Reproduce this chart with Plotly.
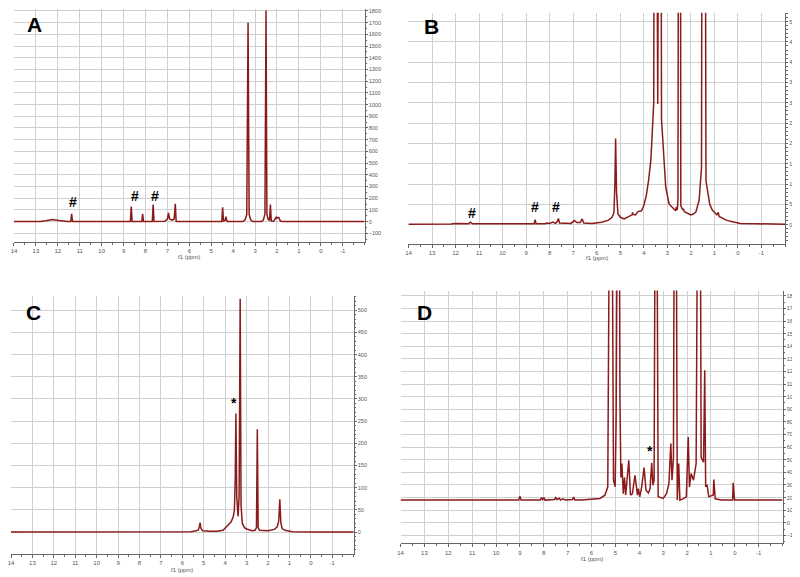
import plotly.graph_objects as go

# ---------------- data ----------------
ppm_ticks = [14, 13, 12, 11, 10, 9, 8, 7, 6, 5, 4, 3, 2, 1, 0, -1]

A_ppm = [14.0, 12.8, 12.55, 12.25, 11.95, 11.75, 11.55, 11.41, 11.37, 11.33, 8.69, 8.65, 8.61,
         8.17, 8.13, 8.09, 7.69, 7.65, 7.61, 7.12, 7.0, 6.95, 6.9, 6.78, 6.69, 6.64, 6.6,
         4.52, 4.48, 4.44, 4.36, 4.33, 4.28, 3.55, 3.45, 3.38, 3.32, 3.27, 3.2, 3.1,
         2.7, 2.62, 2.55, 2.5, 2.46, 2.4, 2.34, 2.3, 2.26, 2.15, 2.08, 2.04, 2.0, 1.95,
         1.9, 1.85, 1.75, -2.0]
A_int = [0, 0, 7, 17, 9, 2, 0, 0, 66, 0, 0, 128, 0,
         0, 66, 0, 0, 145, 0, 2, 22, 74, 22, 12, 22, 151, 0,
         0, 123, 5, 12, 43, 0, 0, 18, 60, 1700, 60, 15, 0,
         0, 15, 65, 1805, 60, 18, 10, 146, 5, 3, 25, 37, 28, 35,
         30, 5, 0, 0]

B_ppm = [14.0, 13.0, 12.2, 12.0, 11.8, 11.45, 11.37, 11.28, 10.0, 9.0, 8.66, 8.62, 8.58,
         8.2, 8.12, 8.0, 7.87, 7.75, 7.67, 7.63, 7.58, 7.1, 6.95, 6.85, 6.7, 6.62, 6.55,
         6.2, 5.8, 5.5, 5.45, 5.35, 5.27, 5.23, 5.2, 5.16, 5.1, 5.0, 4.84, 4.6, 4.5, 4.48,
         4.45, 4.35, 4.25, 4.1, 4.0, 3.9, 3.8, 3.7, 3.65, 3.58, 3.53, 3.47, 3.41, 3.36, 3.3,
         3.25, 3.17, 3.07, 2.93, 2.8, 2.72, 2.65, 2.62, 2.58, 2.55, 2.5, 2.46, 2.43, 2.35,
         2.32, 2.28, 2.15, 2.0, 1.9, 1.79, 1.65, 1.55, 1.5, 1.43, 1.36, 1.3, 1.27, 1.2,
         1.09, 0.9, 0.84, 0.8, 0.74, 0.5, 0.32, -0.1, -0.8, -2.0]
B_int = [0.1, 0.1, 0.15, 0.3, 0.2, 0.2, 0.6, 0.2, 0.2, 0.2, 0.2, 1.2, 0.2,
         0.2, 0.4, 0.3, 0.6, 0.3, 0.8, 1.5, 0.4, 0.3, 1.0, 0.5, 0.5, 1.4, 0.4,
         0.3, 0.6, 1.1, 1.4, 1.8, 3.0, 10, 21.2, 8, 2.6, 1.8, 1.4, 2.0, 2.4, 3.0,
         2.5, 2.4, 3.2, 3.4, 4.7, 7, 10.8, 16, 20.7, 30, 200, 200, 29.7, 200, 200,
         26, 18.5, 9.2, 5.1, 4.3, 3.9, 3.4, 4.3, 3.6, 6, 200, 200, 4.7, 3.6,
         3.9, 3.2, 2.8, 2.4, 2.6, 3.1, 6, 14, 200, 200, 10.8, 7.8, 7.5, 5,
         3.6, 2.4, 3.0, 2.0, 1.8, 1.1, 0.8, 0.3, 0.2, 0.1]

C_ppm = [14.0, 10.0, 7.0, 5.6, 5.35, 5.25, 5.21, 5.17, 5.13, 5.05, 4.7, 4.4, 4.1, 3.94,
         3.8, 3.72, 3.62, 3.57, 3.53, 3.5, 3.46, 3.4, 3.35, 3.3, 3.26, 3.2, 3.1, 3.0,
         2.74, 2.6, 2.54, 2.5, 2.46, 2.4, 2.0, 1.7, 1.57, 1.5, 1.45, 1.4, 1.34, 1.2,
         0.87, 0.0, -2.0]
C_int = [0, 0, 0.5, 1, 3, 5, 12, 21, 8, 3, 2, 2, 4, 12,
         17, 23, 35, 50, 120, 267, 80, 35, 80, 526, 60, 19.5, 10, 7,
         3, 4, 10, 232, 10, 4, 3, 6, 12, 25, 74, 20, 8, 4,
         1, 0, 0]

D_ppm = [14.0, 9.05, 9.0, 8.95, 8.15, 8.1, 8.05, 8.0, 7.95, 7.55, 7.5, 7.45, 7.35, 7.3,
         7.2, 7.1, 6.8, 6.75, 6.7, 6.41, 5.65, 5.44, 5.32, 5.24, 5.15, 5.08, 5.01, 4.97,
         4.91, 4.84, 4.81, 4.77, 4.73, 4.67, 4.62, 4.57, 4.44, 4.37, 4.29, 4.18, 4.11,
         4.08, 4.04, 3.98, 3.9, 3.8, 3.72, 3.62, 3.55, 3.48, 3.43, 3.38, 3.33, 3.27, 3.21,
         3.0, 2.86, 2.76, 2.68, 2.63, 2.57, 2.53, 2.46, 2.41, 2.35, 2.3, 2.17, 2.03, 1.95,
         1.9, 1.83, 1.73, 1.62, 1.55, 1.45, 1.41, 1.31, 1.26, 1.22, 1.16, 1.09, 0.9, 0.88,
         0.82, 0.57, 0.09, 0.07, 0.01, -2.0]
D_int = [18, 18, 21, 18, 18, 20, 18.5, 20, 18, 18.5, 20, 18.5, 19.5, 18,
         19, 18, 18.5, 20.5, 18, 18, 19.3, 21.9, 28.5, 300, 300, 33.8, 28.5, 84,
         300, 300, 97, 36, 47, 23, 36, 22, 49.6, 22, 23, 37.7, 27,
         22, 27, 20.6, 28.5, 43.8, 25.9, 23.7, 27, 47.5, 29.8, 33.8, 300, 300, 20.6,
         19.3, 23, 31, 62.8, 33.8, 52, 300, 300, 18, 47, 18, 19, 20.6, 68,
         28.5, 39, 33.8, 47, 300, 300, 52, 48, 121, 28.5, 30, 20.6, 22, 34.3,
         19, 18, 18, 31.7, 18, 18]

A_yticks = list(range(-100, 1801, 100))
B_yticks = list(range(0, 51, 5))
C_yticks = list(range(0, 501, 50))
D_yticks = list(range(-10, 181, 10))

A_marks = [(11.32, 165, "#"), (8.5, 222, "#"), (7.58, 222, "#")]
B_marks = [(11.3, 2.8, "#"), (8.62, 4.3, "#"), (7.72, 4.3, "#")]
C_marks = [(3.6, 291, "*")]
D_marks = [(3.55, 57, "*")]

# ---------------- styling / geometry ----------------
LINE = "#8b1a1a"
GRID = "#cfcfcf"
AXC = "#666666"
FONT = "Liberation Sans"

# the page body adds an 8 px margin, so the figure is placed at (8, 8)
OFF = 8
W, H = 800 - OFF, 577 - OFF


def clamp(v):
    return max(0.0, min(1.0, v))


def xd(p0, p1):
    return [clamp((p0 - OFF) / W), clamp((p1 - OFF) / W)]


def yd(top, bottom):
    return [clamp(1 - (bottom - OFF) / H), clamp(1 - (top - OFF) / H)]


def px(x):
    return (x - OFF) / W


def py(y):
    return 1 - (y - OFF) / H


fig = go.Figure()

panels = [
    ("A", "x", "y", A_ppm, A_int, xd(11, 363), yd(8, 241.7), [-177, 1817], A_yticks, 50, A_marks, (32, 24), 256),
    ("B", "x2", "y2", B_ppm, B_int, xd(407, 785), yd(11.7, 243.3), [-4.75, 52.2], B_yticks, 1, B_marks, (430, 26), 257),
    ("C", "x3", "y3", C_ppm, C_int, xd(8, 352), yd(296, 554), [-49.5, 531], C_yticks, 10, C_marks, (31, 312), 569.5),
    ("D", "x4", "y4", D_ppm, D_int, xd(399, 782.5), yd(290, 543.3), [-16.3, 184.2], D_yticks, 5, D_marks, (423, 312), 559),
]

layout = dict(
    width=W, height=H,
    margin=dict(l=0, r=0, t=0, b=0),
    paper_bgcolor="white", plot_bgcolor="white",
    showlegend=False,
    font=dict(family=FONT),
)
annotations = []

for name, xa, ya, xs, ys, xdom, ydom, yr, yt, yminor, marks, lab, titley in panels:
    fig.add_trace(go.Scatter(x=xs, y=ys, mode="lines", xaxis=xa, yaxis=ya,
                             line=dict(color=LINE, width=1.5), hoverinfo="skip"))
    xkey = "xaxis" if xa == "x" else "xaxis" + xa[1:]
    ykey = "yaxis" if ya == "y" else "yaxis" + ya[1:]
    layout[xkey] = dict(
        domain=xdom, anchor=ya, range=[14, -2], tickvals=ppm_ticks,
        ticktext=[str(t) for t in ppm_ticks],
        showgrid=True, gridcolor=GRID, gridwidth=1, zeroline=False,
        showline=True, linecolor=AXC, linewidth=1,
        ticks="outside", ticklen=3, tickcolor=AXC,
        minor=dict(dtick=0.5, tick0=0, ticks="outside", ticklen=2, tickcolor=AXC, showgrid=False),
        tickfont=dict(size=6, color="#555555", family=FONT),
        ticklabeloverflow="allow",
        fixedrange=True,
    )
    layout[ykey] = dict(
        domain=ydom, anchor=xa, side="right", range=yr, tickvals=yt,
        showgrid=True, gridcolor=GRID, gridwidth=1, zeroline=False,
        showline=True, linecolor=AXC, linewidth=1,
        ticks="outside", ticklen=2, tickcolor=AXC,
        minor=dict(dtick=yminor, tick0=0, ticks="outside", ticklen=1.5, tickcolor=AXC, showgrid=False),
        tickfont=dict(size=5.5, color="#555555", family=FONT),
        ticklabeloverflow="allow",
        fixedrange=True,
    )
    for mx, my, mt in marks:
        annotations.append(dict(x=mx, y=my, xref=xa, yref=ya, text="<b>%s</b>" % mt,
                                xanchor="center", yanchor="middle",
                                showarrow=False, font=dict(size=14, color="black", family=FONT)))
    annotations.append(dict(x=px(lab[0]), y=py(lab[1]), xref="paper", yref="paper",
                            xanchor="center", yanchor="middle",
                            text="<b>%s</b>" % name, showarrow=False,
                            font=dict(size=21, color="black", family=FONT)))
    cx = (xdom[0] + xdom[1]) / 2
    annotations.append(dict(x=cx, y=py(titley), xref="paper", yref="paper",
                            xanchor="center", yanchor="middle",
                            text="f1 (ppm)", showarrow=False,
                            font=dict(size=6, color="#555555", family=FONT)))

layout["annotations"] = annotations
fig.update_layout(**layout)
fig.write_html("out.html")
